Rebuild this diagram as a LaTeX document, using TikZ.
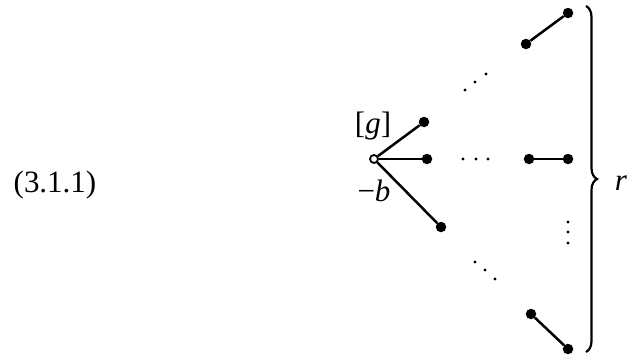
\documentclass[tikz,border=0pt]{standalone}
\usepackage{fontspec}
\setmainfont{Liberation Serif}
\usetikzlibrary{decorations.pathreplacing}
\begin{document}
\begin{tikzpicture}[x=1pt,y=-1pt,
  leaf/.style={circle,fill=black,inner sep=0pt,minimum size=10.5pt},
  rootc/.style={circle,draw=black,fill=white,line width=1.8pt,inner sep=0pt,minimum size=8pt},
  edge/.style={line width=2.5pt},
  dotm/.style={circle,fill=black,inner sep=0pt,minimum size=3.2pt},
  lab/.style={font=\fontsize{31}{36}\selectfont,inner sep=0pt}]
\useasboundingbox (0,0) rectangle (627,357);
% root and children
\node[rootc] (root) at (374,159) {};
\node[leaf] (c1) at (424,122) {};
\node[leaf] (c2) at (427,159) {};
\node[leaf] (c3) at (441,227) {};
\draw[edge] (root) -- (c1);
\draw[edge] (root) -- (c2);
\draw[edge] (root) -- (c3);
% labels
\node[lab] (g) at (373,126) {[\textit{g}]};
\node[lab] (b) at (374,191) {−\textit{b}};
\node[lab] (eq) at (55,185) {(3.1.1)};
% right pairs
\node[leaf] (p1a) at (526,44) {};
\node[leaf] (p1b) at (568,13) {};
\node[leaf] (p2a) at (529,159) {};
\node[leaf] (p2b) at (568,159) {};
\node[leaf] (p3a) at (531,314) {};
\node[leaf] (p3b) at (568,349) {};
\draw[edge] (p1a) -- (p1b);
\draw[edge] (p2a) -- (p2b);
\draw[edge] (p3a) -- (p3b);
% ellipsis dots
\foreach \n/\x/\y in {d1/465/90, d2/475/82, d3/486/74,
                      d4/463/159, d5/476/159, d6/488/159,
                      d7/568/222, d8/568/232, d9/568/243,
                      d10/475/262, d11/485/270, d12/495/279}
  \node[dotm] (\n) at (\x,\y) {};
% brace
\coordinate (bt) at (586,6);
\coordinate (bb) at (586,352);
\draw[line width=2.2pt,decorate,decoration={brace,amplitude=11pt}] (bt) -- (bb);
\node[lab] (r) at (621,183) {\textit{r}};
\end{tikzpicture}
\end{document}
